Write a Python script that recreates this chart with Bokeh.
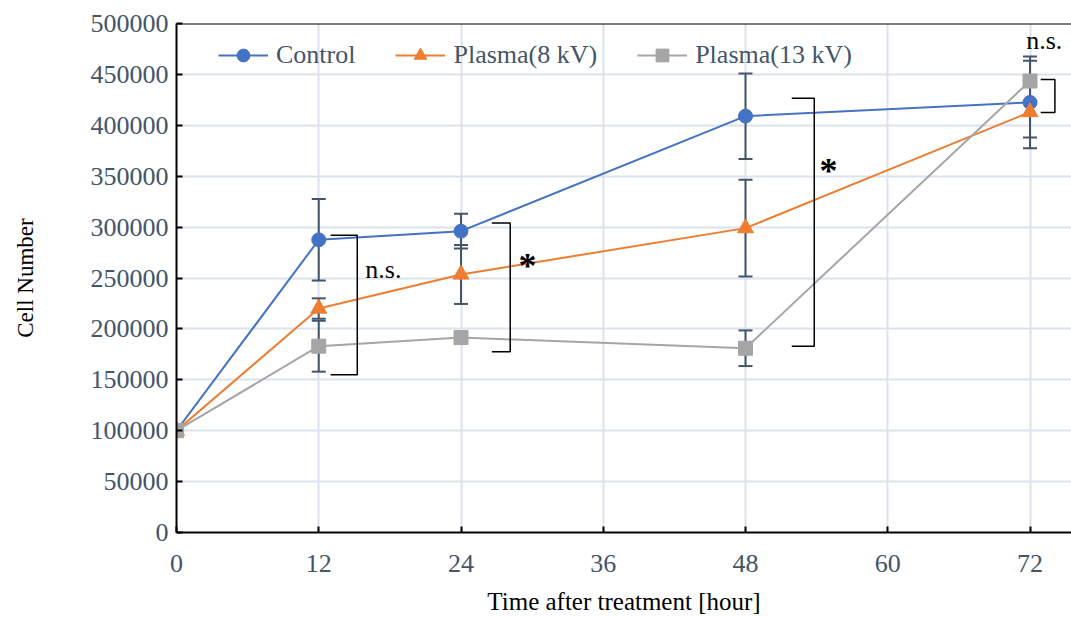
from bokeh.plotting import figure
from bokeh.models import (ColumnDataSource, Legend, LegendItem, Span, FixedTicker,
                          NumeralTickFormatter, Range1d)
from bokeh.core.properties import value
from bokeh.embed import file_html
from bokeh.resources import INLINE

# ---- data ----
hours = [0, 12, 24, 48, 72]
series_names = ["Control", "Plasma(8 kV)", "Plasma(13 kV)"]
control = [100000, 287500, 296000, 409000, 422500]
control_err = [0, 40000, 17000, 42000, 45000]
plasma8 = [100000, 220000, 253500, 299000, 413000]
plasma8_err = [0, 10000, 29000, 47500, 25000]
plasma13 = [100000, 183000, 191500, 181000, 443500]
plasma13_err = [0, 25000, 4000, 17500, 20000]

x_ticks = [0, 12, 24, 36, 48, 60, 72]
y_ticks = [0, 50000, 100000, 150000, 200000, 250000, 300000, 350000, 400000, 450000, 500000]

# significance brackets (x_left, x_right, y_top, y_bottom)
bracket_x0 = [13.0, 26.6, 51.9, 72.9]
bracket_x1 = [15.25, 28.15, 53.8, 74.1]
bracket_top = [292000, 304000, 426500, 445000]
bracket_bot = [155000, 177500, 183000, 412500]
sig_labels = ["n.s.", "*", "*", "n.s."]
sig_x = [17.45, 29.6, 55.0, 73.2]
sig_y = [258000, 266000, 359000, 483000]

FONT = "'Liberation Serif', 'Times New Roman', serif"
TXT = "#44546A"
colors = ["#4472C4", "#ED7D31", "#A5A5A5"]
markers = ["circle", "triangle", "square"]
msizes = [14, 16, 14]

p = figure(width=1071, height=617, output_backend="svg", toolbar_location=None,
           x_range=Range1d(0, 75.5), y_range=Range1d(0, 500000),
           min_border_left=176, min_border_right=0, min_border_top=23, min_border_bottom=84)
p.outline_line_color = None
p.background_fill_color = "white"

# axes
for ax in (p.xaxis[0], p.yaxis[0]):
    ax.axis_line_color = "black"
    ax.axis_line_width = 2
    ax.major_tick_in = 6
    ax.major_tick_out = 0
    ax.major_tick_line_color = "black"
    ax.major_tick_line_width = 2
    ax.minor_tick_line_color = None
    ax.major_label_text_font = FONT
    ax.major_label_text_font_size = "26px"
    ax.major_label_text_color = TXT
    ax.axis_label_text_font = FONT
    ax.axis_label_text_font_style = "normal"
    ax.axis_label_text_color = "black"

p.xaxis.ticker = FixedTicker(ticks=x_ticks)
p.yaxis.ticker = FixedTicker(ticks=y_ticks)
p.yaxis.formatter = NumeralTickFormatter(format="0")
p.xaxis.axis_label = "Time after treatment [hour]"
p.yaxis.axis_label = "Cell Number"
p.xaxis.axis_label_text_font_size = "25px"
p.yaxis.axis_label_text_font_size = "23px"
p.xaxis.major_label_standoff = 22
p.yaxis.major_label_standoff = 8
p.xaxis.axis_label_standoff = 13
p.yaxis.axis_label_standoff = 50

p.xgrid.grid_line_color = "#DCE2EB"
p.ygrid.grid_line_color = "#DCE2EB"
p.xgrid.grid_line_width = 2
p.ygrid.grid_line_width = 2

p.add_layout(Span(location=500000, dimension="width", line_color="black", line_width=2))

all_vals = [control, plasma8, plasma13]
all_errs = [control_err, plasma8_err, plasma13_err]

# error bars
for vals, errs in zip(all_vals, all_errs):
    xs = [h for h, e in zip(hours, errs) if e > 0]
    lo = [v - e for v, e in zip(vals, errs) if e > 0]
    hi = [v + e for v, e in zip(vals, errs) if e > 0]
    src = ColumnDataSource(dict(x=xs, lo=lo, hi=hi))
    p.segment(x0="x", x1="x", y0="lo", y1="hi", source=src, line_color=TXT, line_width=2)
    p.scatter(x="x", y="lo", source=src, marker="dash", size=14, line_color=TXT, line_width=2)
    p.scatter(x="x", y="hi", source=src, marker="dash", size=14, line_color=TXT, line_width=2)

items = []
line_rs = []
for name, vals, c in zip(series_names, all_vals, colors):
    lr = p.line(hours, vals, line_color=c, line_width=2)
    line_rs.append(lr)
for name, vals, c, m, s, lr in zip(series_names, all_vals, colors, markers, msizes, line_rs):
    sr = p.scatter(hours, vals, marker=m, size=s, fill_color=c, line_color=c)
    items.append(LegendItem(label=name, renderers=[lr, sr]))

# brackets
bx, by = [], []
for x0, x1, yt, yb in zip(bracket_x0, bracket_x1, bracket_top, bracket_bot):
    bx.append([x0, x1, x1, x0])
    by.append([yt, yt, yb, yb])
p.multi_line(bx, by, line_color="black", line_width=1.5)

ns_src = ColumnDataSource(dict(x=[x for x, t in zip(sig_x, sig_labels) if t != "*"],
                               y=[y for y, t in zip(sig_y, sig_labels) if t != "*"],
                               t=[t for t in sig_labels if t != "*"]))
p.text(x="x", y="y", text="t", source=ns_src, text_font=value(FONT), text_font_size="26px",
       text_align="center", text_baseline="middle", text_color="black")
st_src = ColumnDataSource(dict(x=[x for x, t in zip(sig_x, sig_labels) if t == "*"],
                               y=[y - 4000 for y, t in zip(sig_y, sig_labels) if t == "*"],
                               t=[t for t in sig_labels if t == "*"]))
p.text(x="x", y="y", text="t", source=st_src, text_font=value(FONT), text_font_size="36px",
       text_font_style="bold", text_align="center", text_baseline="middle", text_color="black")

legend = Legend(items=items, orientation="horizontal", location=(42, 461),
                label_text_font=FONT, label_text_font_size="26px", label_text_color=TXT,
                glyph_width=50, glyph_height=32, label_standoff=8, spacing=40,
                padding=0, margin=0, border_line_color=None, background_fill_alpha=0)
p.add_layout(legend)

open("out.html", "w").write(file_html(p, INLINE))
